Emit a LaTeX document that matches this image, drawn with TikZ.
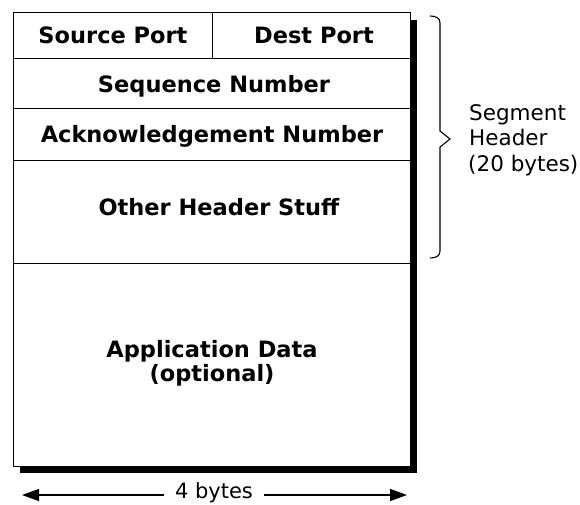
\documentclass[tikz,border=0pt]{standalone}
\usepackage{fontspec}
\setmainfont{DejaVu Sans}
\usetikzlibrary{arrows.meta}
\begin{document}
\begin{tikzpicture}[x=1pt,y=-1pt,
  cell/.style={draw, line width=1.3pt, fill=white, inner sep=0pt, anchor=north west},
  fieldtext/.style={font=\bfseries\fontsize{22.5}{27}\selectfont, inner sep=0pt, anchor=base},
  side/.style={font=\fontsize{21.5}{25.5}\selectfont, inner sep=0pt, anchor=base west},
  dimarrow/.style={line width=1.2pt, -{Triangle[length=17pt,width=12pt]}},
  bracestyle/.style={line width=1.1pt}]
\useasboundingbox (0,0) rectangle (580,504);
% shadow
\fill[black] (20,20) rectangle (417,473);
% cells
\node[cell, minimum width=397pt, minimum height=454pt] (frame) at (13,12) {};
\node[cell, minimum width=199pt, minimum height=46pt] (src) at (13,12) {};
\node[cell, minimum width=198pt, minimum height=46pt] (dst) at (212,12) {};
\node[cell, minimum width=397pt, minimum height=50pt] (seq) at (13,58) {};
\node[cell, minimum width=397pt, minimum height=52pt] (ack) at (13,108) {};
\node[cell, minimum width=397pt, minimum height=103pt] (oth) at (13,160) {};
\node[cell, minimum width=397pt, minimum height=203pt] (app) at (13,263) {};
% field texts
\node[fieldtext] (tsrc) at (113,43) {Source Port};
\node[fieldtext] (tdst) at (314,43) {Dest Port};
\node[fieldtext] (tseq) at (214,92) {Sequence Number};
\node[fieldtext] (tack) at (212,142) {Acknowledgement Number};
\node[fieldtext] (toth) at (219,215) {Other Header Stuff};
\node[fieldtext] (tapp1) at (212,357) {Application Data};
\node[fieldtext] (tapp2) at (212,381) {(optional)};
% brace
\draw[bracestyle] (430,16) .. controls (436,16) and (440,18) .. (440,23) -- (440,131) -- (450,139) -- (440,147) -- (440,251) .. controls (440,256) and (436,258) .. (430,258);
% side label
\node[side] (seg1) at (469,120) {Segment};
\node[side] (seg2) at (469,145.5) {Header};
\node[side] (seg3) at (468,171) {(20 bytes)};
% width dimension
\coordinate (L) at (22,495);
\coordinate (R) at (407,495);
\node[font=\fontsize{21}{25}\selectfont, inner xsep=11pt, inner ysep=0pt, anchor=base] (bytes) at (214,498) {4 bytes};
\draw[dimarrow] (bytes.west |- L) -- (L);
\draw[dimarrow] (bytes.east |- R) -- (R);
\end{tikzpicture}
\end{document}
